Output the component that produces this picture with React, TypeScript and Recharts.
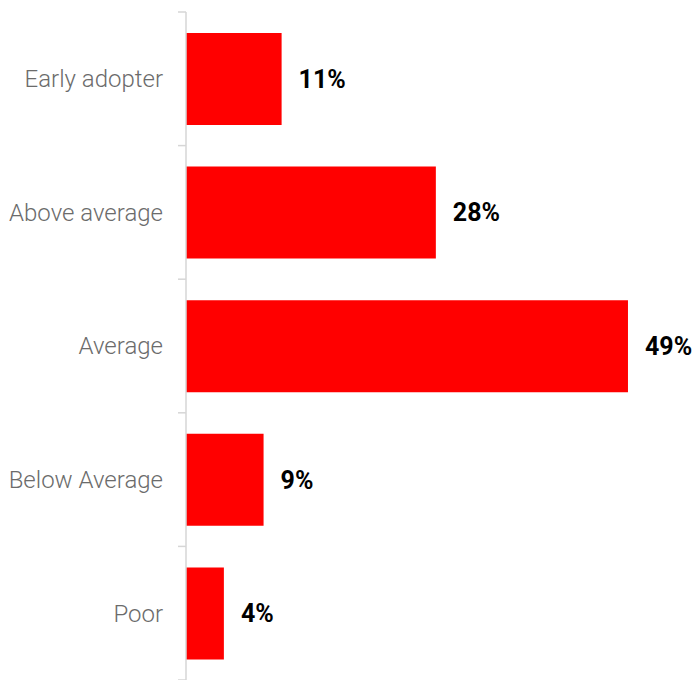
import React from 'react';
import { BarChart, Bar, XAxis, YAxis, LabelList } from 'recharts';

const categories = ['Early adopter', 'Above average', 'Average', 'Below Average', 'Poor'];
const shares = [10.6, 27.7, 49.0, 8.6, 4.2];

const data = categories.map((name, i) => ({ name, value: shares[i] }));

const W = 694;
const H = 680;
const TOP = 12;
const BAND = (H - TOP) / categories.length;
const AXIS_COLOR = '#d6d6d6';

const CategoryTick = (props: any) => {
  const { x, y, payload, index } = props;
  const lx = x + 15;
  return (
    <g>
      <line x1={lx} x2={lx + 8} y1={y - BAND / 2} y2={y - BAND / 2} stroke={AXIS_COLOR} strokeWidth={1.5} />
      {index === categories.length - 1 && (
        <line x1={lx} x2={lx + 8} y1={y + BAND / 2} y2={y + BAND / 2} stroke={AXIS_COLOR} strokeWidth={1.5} />
      )}
      <text
        x={x}
        y={y}
        dy="0.35em"
        textAnchor="end"
        fill="#6b6b6b"
        fontFamily="Roboto"
        fontWeight={300}
        fontSize={24}
      >
        {payload.value}
      </text>
    </g>
  );
};

export default function App() {
  return (
    <div style={{ position: 'absolute', left: 0, top: 0 }}>
      <BarChart
        width={W}
        height={H}
        data={data}
        layout="vertical"
        margin={{ top: TOP, right: 57, bottom: 0, left: 0 }}
      >
        <XAxis type="number" domain={[0, 50]} hide />
        <YAxis
          type="category"
          dataKey="name"
          width={186}
          tickSize={8}
          tickMargin={15}
          tickLine={false}
          axisLine={{ stroke: AXIS_COLOR, strokeWidth: 1.5 }}
          tick={<CategoryTick />}
          interval={0}
        />
        <Bar dataKey="value" fill="#ff0000" barSize={92} isAnimationActive={false}>
          <LabelList
            dataKey="value"
            position="right"
            offset={17}
            formatter={(v: any) => `${Math.round(Number(v))}%`}
            fill="#000"
            fontFamily="Roboto"
            fontWeight={700}
            fontSize={25}
          />
        </Bar>
      </BarChart>
    </div>
  );
}
